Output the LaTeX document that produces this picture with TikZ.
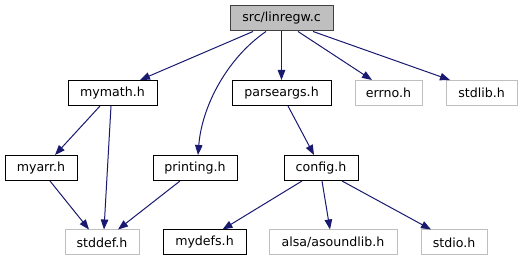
\documentclass[tikz,border=0pt]{standalone}
\usepackage{fontspec}
\setmainfont{DejaVu Sans}
\usetikzlibrary{arrows.meta}
\definecolor{edgeblue}{RGB}{25,25,112}
\definecolor{rootfill}{RGB}{191,191,191}
\definecolor{rootline}{RGB}{64,64,64}
\definecolor{extline}{RGB}{191,191,191}
\tikzset{
  box/.style={draw=black, line width=1pt, inner sep=0pt, minimum height=25pt, font=\fontsize{12.6pt}{14pt}\selectfont, text=black},
  docbox/.style={box},
  extbox/.style={box, draw=extline},
  rootbox/.style={box, fill=rootfill, draw=rootline},
  dep/.style={draw=edgeblue, line width=1pt, -{Triangle[length=10pt,width=7.5pt]}, edgeblue}
}
\begin{document}
\begin{tikzpicture}[x=1pt,y=-1pt]
\useasboundingbox (0,0) rectangle (525,261);
\node[rootbox, minimum width=103pt] (root) at (281.5,18.5) {src/linregw.c};
\node[docbox, minimum width=89pt] (mymath) at (112.5,93) {mymath.h};
\node[docbox, minimum width=99pt] (parse) at (281.5,93) {parseargs.h};
\node[extbox, minimum width=67pt] (errno) at (388.5,93) {errno.h};
\node[extbox, minimum width=71pt] (stdlib) at (481.5,93) {stdlib.h};
\node[docbox, minimum width=72pt] (myarr) at (41,168) {myarr.h};
\node[docbox, minimum width=84pt] (printing) at (195,168) {printing.h};
\node[docbox, minimum width=74pt] (config) at (321,168) {config.h};
\node[extbox, minimum width=74pt] (stddef) at (102,242.5) {stddef.h};
\node[docbox, minimum width=83pt] (mydefs) at (204.5,242.5) {mydefs.h};
\node[extbox, minimum width=128pt] (alsa) at (333,242.5) {alsa/asoundlib.h};
\node[extbox, minimum width=66pt] (stdio) at (454,242.5) {stdio.h};

\draw[dep] ([xshift=-28.5pt]root.south) -- ([xshift=27.5pt]mymath.north);
\draw[dep] ([xshift=-15.5pt]root.south) .. controls +(-38,26) and +(4,-50) .. ([xshift=3pt]printing.north);
\draw[dep] (root.south) -- (parse.north);
\draw[dep] ([xshift=16.5pt]root.south) -- ([xshift=-16.5pt]errno.north);
\draw[dep] ([xshift=31.5pt]root.south) -- ([xshift=-31.5pt]stdlib.north);
\draw[dep] ([xshift=-12.5pt]mymath.south) -- ([xshift=14pt]myarr.north);
\draw[dep] ([xshift=-1.5pt]mymath.south) -- ([xshift=2pt]stddef.north);
\draw[dep] ([xshift=6.5pt]parse.south) -- ([xshift=-7pt]config.north);
\draw[dep] ([xshift=9pt]myarr.south) -- ([xshift=-13pt]stddef.north);
\draw[dep] ([xshift=-15pt]printing.south) -- ([xshift=16pt]stddef.north);
\draw[dep] ([xshift=-19pt]config.south) -- ([xshift=18pt]mydefs.north);
\draw[dep] ([xshift=1pt]config.south) -- ([xshift=-3pt]alsa.north);
\draw[dep] ([xshift=21pt]config.south) -- ([xshift=-23pt]stdio.north);
\end{tikzpicture}
\end{document}
